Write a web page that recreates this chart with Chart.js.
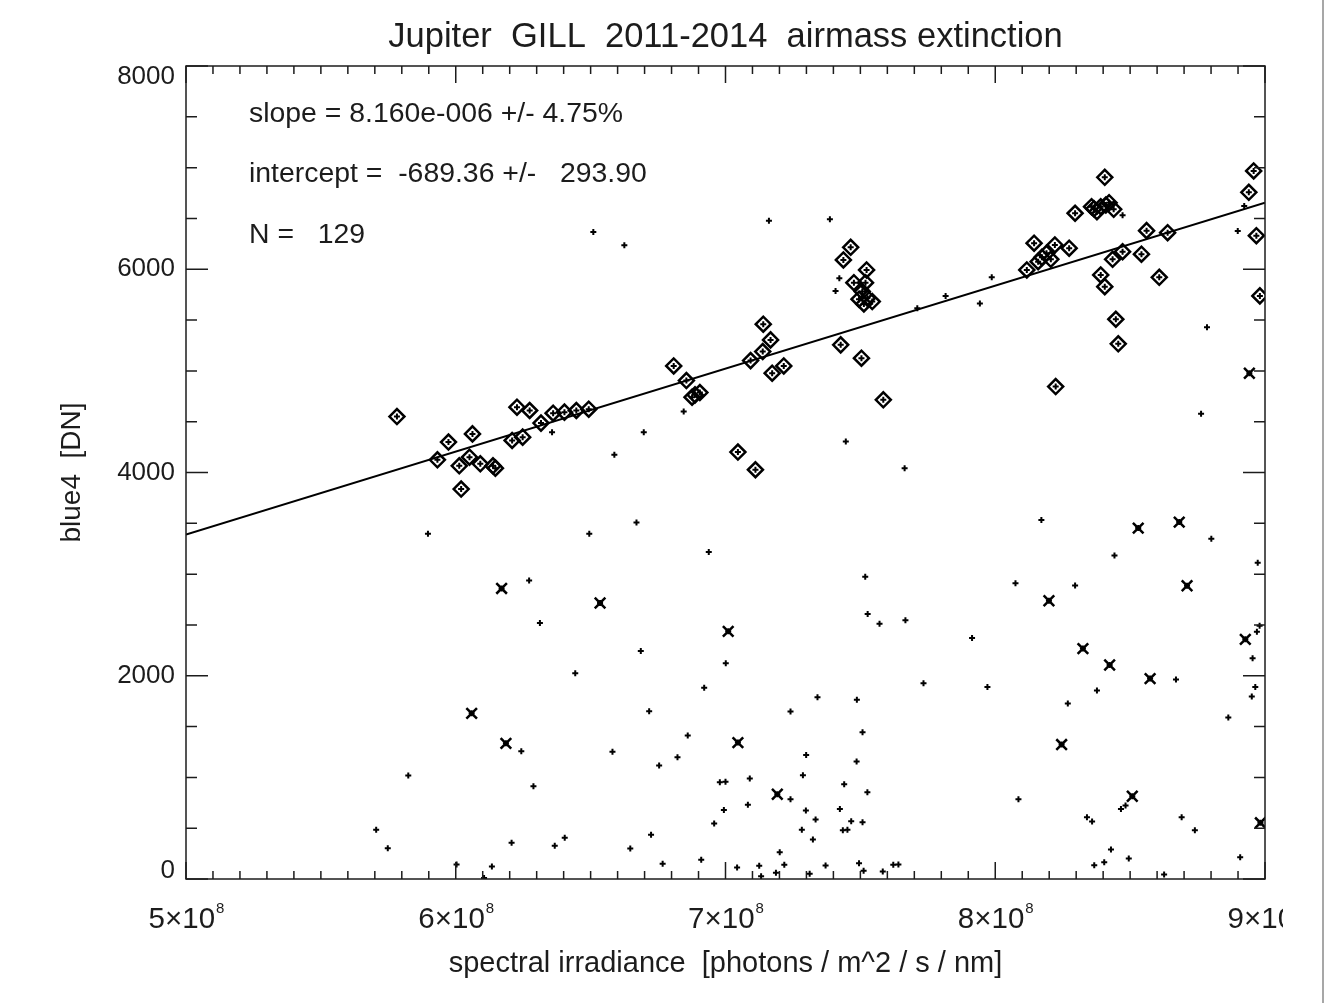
<!DOCTYPE html>
<html>
<head>
<meta charset="utf-8">
<title>Jupiter GILL airmass extinction</title>
<script src="https://cdn.jsdelivr.net/npm/chart.js@4.4.1/dist/chart.umd.min.js"></script>
<style>
  html, body { margin: 0; padding: 0; background: #fff; }
  #wrap { width: 1328px; height: 1003px; position: relative; }
</style>
</head>
<body>
<div id="wrap"><canvas id="plot" width="1328" height="1003"></canvas></div>
<script>
// fit result
const slope = 8.160e-6;
const intercept = -689.36;
const slopeErr = '4.75%';
const interceptErr = 293.90;
const nFit = 129;

// points kept in the fit (diamonds)
const fitX = [5.782e8, 5.973e8, 6.062e8, 5.932e8, 6.013e8, 6.051e8, 6.091e8, 6.138e8, 6.147e8, 6.020e8,
  6.209e8, 6.248e8, 6.227e8, 6.274e8, 6.316e8, 6.361e8, 6.403e8, 6.447e8, 6.493e8,
  6.808e8, 6.855e8, 6.876e8, 6.905e8, 6.887e8, 7.046e8, 7.111e8, 7.093e8, 7.138e8, 7.167e8,
  7.140e8, 7.173e8, 7.216e8, 7.427e8, 7.504e8, 7.585e8, 7.464e8, 7.437e8, 7.523e8, 7.476e8,
  7.519e8, 7.507e8, 7.495e8, 7.513e8, 7.544e8, 7.526e8,
  8.117e8, 8.144e8, 8.159e8, 8.190e8, 8.206e8, 8.221e8, 8.274e8, 8.296e8, 8.357e8, 8.377e8,
  8.391e8, 8.422e8, 8.439e8, 8.406e8, 8.391e8, 8.406e8, 8.435e8, 8.472e8, 8.542e8, 8.561e8,
  8.639e8, 8.608e8, 8.447e8, 8.456e8, 8.224e8, 8.958e8, 8.940e8, 8.968e8, 8.981e8, 8.410e8,
  8.366e8, 8.173e8];
const fitY = [4550, 4300, 4380, 4125, 4066, 4151, 4086, 4066, 4043, 3837,
  4315, 4348, 4643, 4610, 4486, 4584, 4594, 4610, 4623,
  5049, 4905, 4741, 4787, 4764, 4201, 4027, 5101, 5190, 5305,
  5459, 4977, 5049, 5256, 5125, 4715, 6216, 6092, 5993, 5868,
  5868, 5780, 5705, 5659, 5682, 5715,
  5993, 6256, 6075, 6157, 6098, 6239, 6207, 6551, 6616, 6566,
  6616, 6655, 6590, 6905, 5944, 5829, 6098, 6173, 6148, 6380,
  6360, 5921, 5508, 5266, 4846, 6967, 6757, 6330, 5738, 6632,
  6596, 6117];

// rejected points (crosses)
const rejX = [6.170e8, 6.535e8, 6.059e8, 6.186e8, 7.010e8, 7.046e8, 7.192e8, 8.530e8, 8.682e8, 8.199e8,
  8.711e8, 8.325e8, 8.424e8, 8.574e8, 8.927e8, 8.246e8, 8.508e8, 8.983e8, 8.942e8];
const rejY = [2859, 2716, 1630, 1335, 2437, 1342, 834, 3453, 3512, 2738,
  2886, 2267, 2106, 1972, 2358, 1323, 814, 553, 4977];

// remaining measurements (small plus only)
const restX = [6.510e8, 6.625e8, 7.161e8, 7.387e8, 7.422e8, 7.408e8, 6.845e8, 6.697e8, 6.588e8, 7.446e8,
  6.357e8, 7.711e8, 7.816e8, 7.943e8, 7.987e8, 8.472e8, 8.785e8, 8.763e8, 8.899e8, 8.923e8, 7.664e8,
  5.897e8, 6.495e8, 6.670e8, 6.272e8, 6.312e8, 6.686e8, 6.443e8, 6.717e8, 6.243e8, 6.581e8,
  6.754e8, 5.824e8, 6.288e8, 5.705e8, 5.748e8, 6.207e8, 6.367e8, 6.404e8, 6.647e8, 6.724e8,
  6.003e8, 6.134e8, 6.105e8,
  6.938e8, 7.518e8, 7.527e8, 7.571e8, 7.667e8, 7.001e8, 6.921e8, 7.734e8, 7.341e8, 7.487e8,
  7.241e8, 6.860e8, 7.508e8, 6.822e8, 7.299e8, 7.486e8, 7.287e8, 6.979e8, 7.000e8, 7.090e8,
  7.440e8, 7.526e8, 7.241e8, 6.994e8, 7.083e8, 7.298e8, 7.424e8, 7.334e8, 7.466e8, 7.508e8,
  6.958e8, 7.283e8, 7.435e8, 7.452e8, 7.324e8, 7.201e8, 6.767e8, 6.910e8, 7.043e8, 7.125e8,
  7.132e8, 7.187e8, 7.218e8, 7.312e8, 7.371e8, 7.495e8, 7.512e8, 7.583e8, 7.622e8, 7.641e8,
  8.171e8, 8.801e8, 8.442e8, 8.973e8, 8.075e8, 8.296e8, 7.914e8, 8.670e8, 8.377e8, 7.971e8,
  8.269e8, 8.980e8, 8.970e8, 8.954e8, 8.964e8, 8.951e8, 8.864e8, 8.086e8, 8.466e8, 8.483e8,
  8.340e8, 8.359e8, 8.691e8, 8.740e8, 8.429e8, 8.495e8, 8.367e8, 8.404e8, 8.908e8, 8.626e8];
const restY = [6367, 6236, 6478, 6492, 5912, 5787, 4600, 4397, 4174, 4305,
  4397, 5617, 5738, 5662, 5921, 6531, 5430, 4577, 6377, 6623, 4043,
  3397, 3397, 3508, 2938, 2519, 2244, 2024, 1650, 1257, 1251,
  1116, 1018, 913, 484, 303, 356, 326, 405, 300, 435,
  143, 123, 10,
  3217, 2974, 2608, 2512, 2545, 2122, 1883, 1925, 1788, 1765,
  1647, 1411, 1443, 1198, 1221, 1155, 1021, 952, 956, 988,
  932, 854, 785, 680, 730, 674, 690, 585, 568, 559,
  546, 484, 480, 484, 388, 264, 149, 189, 113, 130,
  28, 61, 140, 51, 133, 155, 81, 74, 140, 143,
  3532, 3348, 3184, 3112, 2909, 2889, 2372, 1962, 1854, 1890,
  1726, 2493, 2434, 2171, 1890, 1795, 1588, 785, 690, 723,
  608, 565, 608, 480, 290, 202, 136, 165, 214, 44];

const xMajor = [5e8, 6e8, 7e8, 8e8, 9e8];
const yMajor = [0, 2000, 4000, 6000, 8000];
const xMinorStep = 1e7;
const yMinorStep = 500;

const FONT = '"Liberation Sans", Arial, Helvetica, sans-serif';
const INK = '#1c1c1c';

const toPts = (xs, ys) => xs.map((x, i) => ({ x: x, y: ys[i] }));
const allX = fitX.concat(rejX, restX);
const allY = fitY.concat(rejY, restY);

// IDL-like box: ticks pointing inwards on all four sides, labels drawn by hand
const boxAxes = {
  id: 'boxAxes',
  afterDraw(chart) {
    const { ctx, chartArea: a, scales: { x, y } } = chart;
    ctx.save();
    ctx.strokeStyle = INK;
    ctx.lineWidth = 1.5;
    ctx.strokeRect(a.left, a.top, a.right - a.left, a.bottom - a.top);

    ctx.beginPath();
    const nx = Math.round((x.max - x.min) / xMinorStep);
    for (let i = 0; i <= nx; i++) {
      const px = x.getPixelForValue(x.min + i * xMinorStep);
      const len = i % 10 === 0 ? 17 : 8;
      ctx.moveTo(px, a.bottom); ctx.lineTo(px, a.bottom - len);
      ctx.moveTo(px, a.top); ctx.lineTo(px, a.top + len);
    }
    const ny = Math.round((y.max - y.min) / yMinorStep);
    for (let j = 0; j <= ny; j++) {
      const py = y.getPixelForValue(y.min + j * yMinorStep);
      const len = j % 4 === 0 ? 22 : 11;
      ctx.moveTo(a.left, py); ctx.lineTo(a.left + len, py);
      ctx.moveTo(a.right, py); ctx.lineTo(a.right - len, py);
    }
    ctx.stroke();

    // thin edge of the plot window
    ctx.strokeStyle = '#8a8a8a';
    ctx.beginPath();
    ctx.moveTo(1323, 0); ctx.lineTo(1323, 1003);
    ctx.stroke();

    ctx.fillStyle = INK;

    // y tick labels
    ctx.font = '26px ' + FONT;
    ctx.textAlign = 'right';
    ctx.textBaseline = 'middle';
    yMajor.forEach(v => {
      const py = Math.min(Math.max(y.getPixelForValue(v), a.top + 11), a.bottom - 8);
      ctx.fillText(String(v), a.left - 11, py);
    });

    // x tick labels, n×10^8
    ctx.save();
    ctx.beginPath();
    ctx.rect(0, 0, 1283, 1003);
    ctx.clip();
    ctx.textBaseline = 'alphabetic';
    ctx.textAlign = 'left';
    xMajor.forEach(v => {
      const px = x.getPixelForValue(v);
      const base = Math.round(v / 1e8) + '\u00d710';
      ctx.font = '29.5px ' + FONT;
      const wb = ctx.measureText(base).width;
      ctx.font = '15px ' + FONT;
      const ws = ctx.measureText('8').width;
      const x0 = px - (wb + ws) / 2;
      ctx.font = '29.5px ' + FONT;
      ctx.fillText(base, x0, 928);
      ctx.font = '15px ' + FONT;
      ctx.fillText('8', x0 + wb + 1, 913);
    });
    ctx.restore();

    // title
    const cx = (a.left + a.right) / 2;
    ctx.textAlign = 'center';
    ctx.textBaseline = 'alphabetic';
    ctx.font = '34.5px ' + FONT;
    ctx.fillText('Jupiter  GILL  2011-2014  airmass extinction', cx, 47);

    // axis titles
    ctx.font = '29px ' + FONT;
    ctx.fillText('spectral irradiance  [photons / m^2 / s / nm]', cx, 972);
    ctx.save();
    ctx.translate(72, (a.top + a.bottom) / 2);
    ctx.rotate(-Math.PI / 2);
    ctx.textBaseline = 'middle';
    ctx.font = '28px ' + FONT;
    ctx.fillText('blue4  [DN]', 0, 0);
    ctx.restore();

    // fit summary
    ctx.textAlign = 'left';
    ctx.font = '28.4px ' + FONT;
    ctx.fillText('slope = ' + slope.toExponential(3).replace('e-6', 'e-006') + ' +/- ' + slopeErr, 249, 122);
    ctx.fillText('intercept =  ' + intercept.toFixed(2) + ' +/-   ' + interceptErr.toFixed(2), 249, 182);
    ctx.fillText('N =   ' + nFit, 249, 243);
    ctx.restore();
  }
};

new Chart(document.getElementById('plot'), {
  type: 'scatter',
  data: {
    datasets: [
      {
        // fitted line
        type: 'line',
        data: [5e8, 9e8].map(v => ({ x: v, y: slope * v + intercept })),
        borderColor: '#000',
        borderWidth: 2,
        pointRadius: 0,
        fill: false,
        order: 0
      },
      {
        data: toPts(rejX, rejY),
        pointStyle: 'crossRot',
        pointRadius: 7.5,
        borderColor: '#000',
        borderWidth: 2.5,
        order: 1
      },
      {
        data: toPts(fitX, fitY),
        pointStyle: 'rectRot',
        pointRadius: 7.5,
        backgroundColor: 'rgba(0,0,0,0)',
        borderColor: '#000',
        borderWidth: 2.5,
        order: 2
      },
      {
        data: toPts(allX, allY),
        pointStyle: 'cross',
        pointRadius: 3,
        borderColor: '#000',
        borderWidth: 2,
        order: 3
      }
    ]
  },
  options: {
    responsive: false,
    animation: false,
    devicePixelRatio: 1,
    layout: { padding: { top: 66, right: 63, left: 0, bottom: 0 } },
    plugins: { legend: { display: false }, tooltip: { enabled: false } },
    scales: {
      x: {
        type: 'linear', min: 5e8, max: 9e8,
        ticks: { display: false }, grid: { display: false }, border: { display: false },
        afterFit: s => { s.height = 124; }
      },
      y: {
        type: 'linear', min: 0, max: 8000,
        ticks: { display: false }, grid: { display: false }, border: { display: false },
        afterFit: s => { s.width = 186; }
      }
    }
  },
  plugins: [boxAxes]
});
</script>
</body>
</html>
